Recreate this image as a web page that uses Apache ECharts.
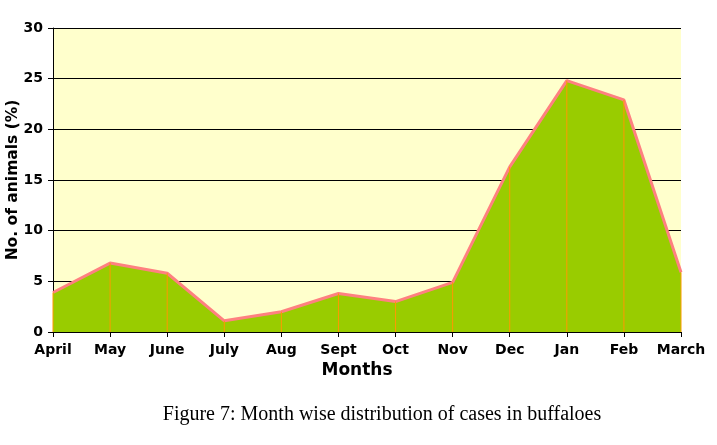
<!DOCTYPE html>
<html><head><meta charset="utf-8">
<script src="https://cdn.jsdelivr.net/npm/echarts@6/dist/echarts.min.js"></script>
<style>html,body{margin:0;padding:0;background:#fff}#c{width:717px;height:445px}</style>
</head><body><div id="c"></div>
<script>
const months = ['April','May','June','July','Aug','Sept','Oct','Nov','Dec','Jan','Feb','March'];
const cases = [3.9, 6.8, 5.8, 1.1, 2.0, 3.8, 3.0, 4.9, 16.3, 24.8, 22.9, 5.9];
const yTicks = [0, 5, 10, 15, 20, 25, 30];
const caption = 'Figure 7: Month wise distribution of cases in buffaloes';

const chart = echarts.init(document.getElementById('c'));
chart.setOption({
  animation: false,
  backgroundColor: '#ffffff',
  grid: {left: 53, right: 36, top: 28, bottom: 113, show: true, backgroundColor: '#FFFFCC', borderWidth: 0,
         containLabel: false, outerBoundsMode: 'none'},
  title: {
    text: caption, left: 377, top: 400, textAlign: 'center',
    textStyle: {fontFamily: 'Liberation Serif', fontWeight: 'normal', fontSize: 20, color: '#000'}
  },
  xAxis: {
    type: 'category', data: months, boundaryGap: false,
    axisLine: {lineStyle: {color: '#000', width: 1}},
    axisTick: {show: true, alignWithLabel: true, length: 5, lineStyle: {color: '#000'}},
    axisLabel: {color: '#000', fontFamily: 'DejaVu Sans', fontWeight: 'bold', fontSize: 14, margin: 11, interval: 0},
    name: 'Months', nameLocation: 'middle', nameGap: 30, nameMoveOverlap: false,
    nameTextStyle: {color: '#000', fontFamily: 'DejaVu Sans', fontWeight: 'bold', fontSize: 17, padding: [0, 20, 0, 0]}
  },
  yAxis: {
    type: 'value', min: yTicks[0], max: yTicks[yTicks.length-1], interval: 5,
    axisLine: {show: true, lineStyle: {color: '#000', width: 1}},
    axisTick: {show: true, length: 5, lineStyle: {color: '#000'}},
    axisLabel: {color: '#000', fontFamily: 'DejaVu Sans', fontWeight: 'bold', fontSize: 14, margin: 10},
    splitLine: {show: true, lineStyle: {color: '#000', width: 1}},
    name: 'No. of animals (%)', nameLocation: 'middle', nameGap: 32, nameMoveOverlap: false,
    nameTextStyle: {color: '#000', fontFamily: 'DejaVu Sans', fontWeight: 'bold', fontSize: 15.5}
  },
  series: [
    {
      type: 'line', data: cases, symbol: 'none', z: 2,
      lineStyle: {color: '#FF8080', width: 3},
      areaStyle: {color: '#99CC00', opacity: 1}
    },
    {
      type: 'bar', data: cases, barWidth: 1, z: 3,
      itemStyle: {color: '#FF9900'}
    }
  ]
});
</script></body></html>
